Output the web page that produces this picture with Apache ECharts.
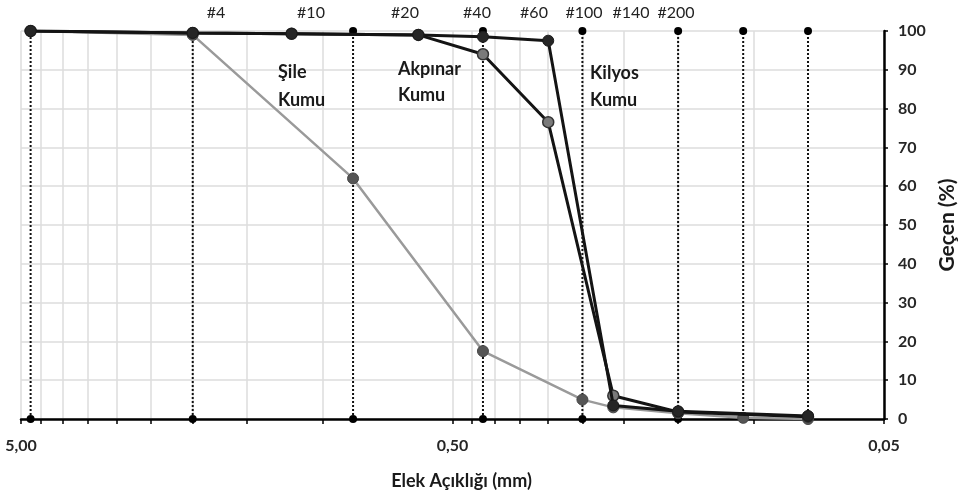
<!DOCTYPE html>
<html>
<head>
<meta charset="utf-8">
<script src="https://cdn.jsdelivr.net/npm/echarts@6/dist/echarts.min.js"></script>
<style>html,body{margin:0;padding:0;background:#fff}#c{width:963px;height:499px}</style>
</head>
<body>
<div id="c"></div>
<script>
// Sieve markers (dotted verticals) and their labels
const sieveSizes = [4.75, 2.0, 0.85, 0.425, 0.25, 0.15, 0.106, 0.075];
const sieveLabels = ['#4', '#10', '#20', '#40', '#60', '#100', '#140', '#200'];
// x-axis tick labels and log gridline values (mm)
const xTickValues = [5, 0.5, 0.05];
const xGridValues = [5, 4.5, 4, 3.5, 3, 2.5, 2, 1.5, 1, 0.5, 0.45, 0.4, 0.35, 0.3, 0.25, 0.2, 0.15, 0.1, 0.05];
// Gradation curves: sieve opening (mm) and passing (%)
const sileX = [4.75, 2.0, 0.85, 0.425, 0.25, 0.212, 0.15, 0.106, 0.075];
const sileY = [100, 99, 62, 17.5, 5, 3, 1.5, 0.3, 0];
const akpinarX = [4.75, 2.0, 1.18, 0.6, 0.425, 0.3, 0.212, 0.15, 0.075];
const akpinarY = [100, 99.5, 99.3, 99, 94, 76.5, 6, 1.8, 0.6];
const kilyosX = [4.75, 2.0, 1.18, 0.6, 0.425, 0.3, 0.212, 0.15, 0.075];
const kilyosY = [100, 99.5, 99.3, 99, 98.5, 97.5, 3.5, 2, 0.8];
// Curve annotations
const annotations = [
  {text: 'Şile', x: 278, y: 72}, {text: 'Kumu', x: 278, y: 100},
  {text: 'Akpınar', x: 398, y: 69}, {text: 'Kumu', x: 398, y: 95},
  {text: 'Kilyos', x: 590, y: 73}, {text: 'Kumu', x: 590, y: 100}
];
const sieveLabelX = [216, 311, 405, 477, 534, 584, 631, 676];

const FONT = 'Lato, "Open Sans", sans-serif';
const zip = (xs, ys) => xs.map((x, i) => [x, ys[i]]);

const chart = echarts.init(document.getElementById('c'));
const graphics = [];
annotations.forEach(a => graphics.push({
  type: 'text', x: a.x, y: a.y, z: 50,
  style: {text: a.text, fill: '#1a1a1a', font: 'bold 18px ' + FONT, textAlign: 'left', textVerticalAlign: 'middle'}
}));
sieveLabels.forEach((t, i) => graphics.push({
  type: 'text', x: sieveLabelX[i], y: 13, z: 50,
  style: {text: t, fill: '#222222', font: '16px ' + FONT, textAlign: 'center', textVerticalAlign: 'middle'}
}));

const sieveSeries = sieveSizes.map(v => ({
  type: 'line', z: 1, silent: true,
  data: [[v, 0], [v, 100]],
  symbol: 'circle', symbolSize: 8, showSymbol: true,
  lineStyle: {color: '#111', type: [2, 2], width: 2},
  itemStyle: {color: '#000'}
}));

chart.setOption({
  animation: false,
  backgroundColor: '#ffffff',
  grid: {left: 21, right: 79, top: 31, bottom: 80, containLabel: false, outerBoundsMode: 'none'},
  xAxis: {
    type: 'log', min: 0.05, max: 5, inverse: true,
    name: 'Elek Açıklığı (mm)', nameLocation: 'middle', nameGap: 53,
    nameTextStyle: {fontFamily: FONT, fontWeight: 'bold', fontSize: 18, color: '#1a1a1a', padding: [0, 0, 0, 18]},
    axisLine: {show: true, lineStyle: {color: '#000', width: 2.5}},
    axisTick: {show: true, inside: false, length: 5, customValues: xGridValues, lineStyle: {color: '#000', width: 1.5}},
    axisLabel: {customValues: xTickValues, margin: 19, fontFamily: FONT, fontWeight: 'bold', fontSize: 16, color: '#262626',
      formatter: v => Number(v).toFixed(2).replace('.', ',')},
    splitLine: {show: true, lineStyle: {color: '#dcdcdc', width: 1.5}},
    minorTick: {show: false}, minorSplitLine: {show: false}
  },
  yAxis: {
    type: 'value', position: 'right', min: 0, max: 100, interval: 10,
    name: 'Geçen (%)', nameLocation: 'middle', nameGap: 50, nameRotate: 90,
    nameTextStyle: {fontFamily: FONT, fontWeight: 'bold', fontSize: 21, color: '#1a1a1a'},
    axisLine: {show: true, lineStyle: {color: '#000', width: 2.5}},
    axisTick: {show: true, inside: false, length: 4, lineStyle: {color: '#000', width: 1.5}},
    axisLabel: {margin: 14, fontFamily: FONT, fontWeight: 'bold', fontSize: 16, color: '#262626'},
    splitLine: {show: true, lineStyle: {color: '#dcdcdc', width: 1.5}}
  },
  graphic: graphics,
  series: sieveSeries.concat([
    {
      name: 'Şile Kumu', type: 'line', z: 3, data: zip(sileX, sileY),
      symbol: 'circle', symbolSize: 11,
      lineStyle: {color: '#9a9a9a', width: 2.5},
      itemStyle: {color: '#555555', borderColor: '#474747', borderWidth: 1}
    },
    {
      name: 'Akpınar Kumu', type: 'line', z: 4, data: zip(akpinarX, akpinarY),
      symbol: 'circle', symbolSize: 11,
      lineStyle: {color: '#141414', width: 3},
      itemStyle: {color: '#7a7a7a', borderColor: '#333', borderWidth: 1.5}
    },
    {
      name: 'Kilyos Kumu', type: 'line', z: 5, data: zip(kilyosX, kilyosY),
      symbol: 'circle', symbolSize: 11,
      lineStyle: {color: '#141414', width: 3},
      itemStyle: {color: '#262626', borderColor: '#1a1a1a', borderWidth: 1}
    }
  ])
});
</script>
</body>
</html>
